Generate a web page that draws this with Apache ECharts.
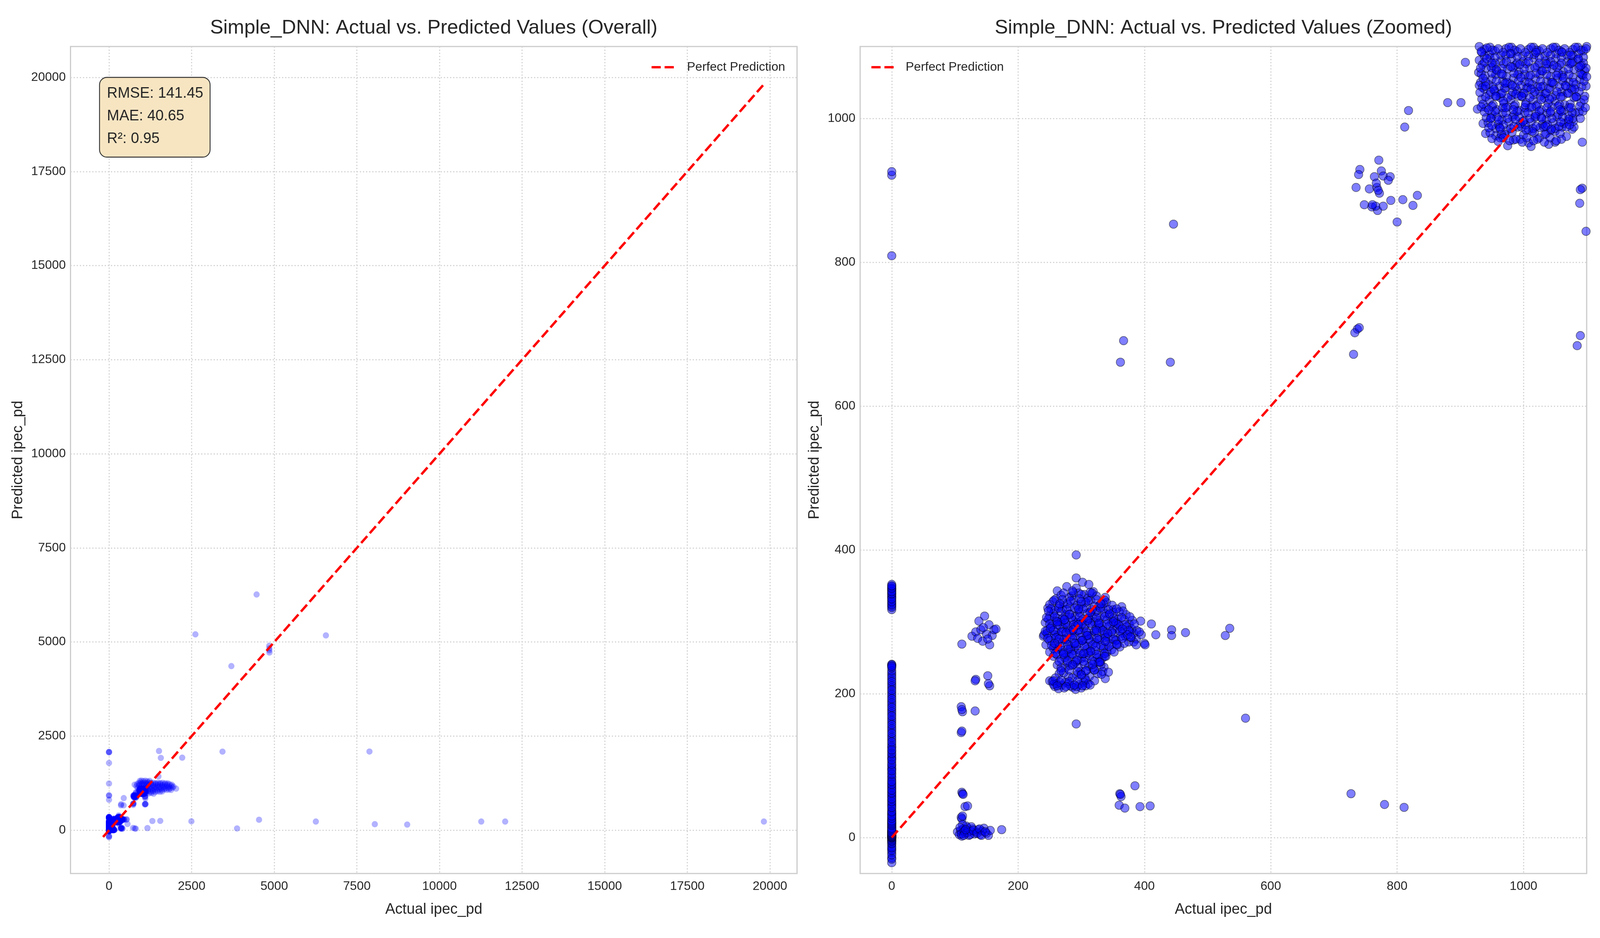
<!DOCTYPE html>
<html>
<head>
<meta charset="utf-8">
<title>Simple_DNN: Actual vs. Predicted Values</title>
<script src="https://cdn.jsdelivr.net/npm/echarts@6.0.0/dist/echarts.min.js"></script>
<style>
  html, body { margin: 0; padding: 0; background: #ffffff; overflow: hidden; }
  #chart { width: 100vw; height: 100vh; }
</style>
</head>
<body>
<div id="chart"></div>
<script>
// predicted values for rows whose actual ipec_pd is 0
const zeroPreds = [-185, -168, -152, -35, -28, -21, -16, -12, -9, -6, -4, -2, 0, 1, 2, 3, 4, 5, 6, 7, 8, 9, 10,
  12, 14, 16, 18, 20, 22, 25, 28, 31, 34, 37, 40, 44, 48, 52, 56, 60, 64, 68, 72, 76, 80, 85, 90, 95, 100,
  105, 110, 115, 120, 125, 130, 136, 142, 148, 154, 160, 166, 172, 178, 184, 190, 196, 202, 208, 214, 220,
  226, 229, 239, 241, 317, 322, 326, 330, 334, 337, 340, 343, 346, 349, 352, 809, 921, 926, 1240, 1787,
  2068, 2076, 2082,
  0, 3, 8, 15, 24, 33, 46, 58, 70, 83, 97, 112, 127, 139, 151, 163, 175, 187, 199, 211, 223, 240, 335, 345,
  -30, -24, -18, -14, -8, -5, -3, -1, 0, 0, 1, 2, 2, 3, 4, 5, 6, 7, 9, 11, 13, 17, 19, 21, 23, 27, 30, 36,
  42, 50, 54, 62, 66, 74, 78, 88, 93, 102, 108, 117, 122, 133, 145, 157, 169, 181, 193, 205, 217, 232, 236,
  238, 320, 324, 328, 332, 339, 342, 347, 350];

// [actual, predicted] pairs, grouped by region of the plot
const bandPts = [[111, 269], [127, 280], [133, 286], [136, 277], [138, 301], [141, 289], [144, 273], [147, 308],
  [150, 283], [154, 296], [155, 268], [159, 281], [162, 289], [165, 290], [152, 276], [145, 292],
  [133, 220], [132, 218], [152, 225], [155, 211], [153, 214],
  [110, 182], [112, 175], [111, 178], [132, 176], [110, 146], [111, 148],
  [111, 63], [112, 61], [113, 60], [116, 43], [120, 44], [110, 28], [111, 26], [112, 30],
  [104, 8], [107, 4], [109, 10], [111, 2], [113, 12], [116, 6], [119, 14], [122, 3], [125, 9], [128, 12],
  [131, 5], [134, 8], [137, 11], [140, 4], [143, 9], [146, 13], [150, 6], [153, 3], [156, 10], [174, 11],
  [118, 16], [126, 15], [112, 18], [108, 14],
  [110, 5], [115, 9], [120, 7], [124, 4], [129, 10], [135, 6], [139, 12], [142, 3], [148, 8], [114, 3], [117, 11]];

const midPts = [[262, 343], [277, 349], [292, 347], [305, 338], [319, 342], [285, 336],
  [255, 328], [260, 332], [272, 326], [288, 330], [300, 325], [315, 330], [328, 322], [340, 327],
  [247, 319], [258, 316], [270, 318], [282, 321], [295, 316], [308, 320], [322, 314], [335, 318], [350, 317], [364, 321],
  [250, 308], [262, 305], [275, 310], [290, 307], [303, 304], [316, 310], [330, 306], [344, 309], [358, 304], [371, 310],
  [243, 299], [255, 296], [268, 300], [280, 294], [293, 299], [306, 295], [320, 300], [334, 294], [348, 298], [362, 293], [376, 297],
  [246, 288], [259, 286], [271, 291], [284, 285], [297, 289], [310, 284], [323, 290], [337, 286], [350, 289], [365, 284], [380, 290],
  [240, 280], [252, 277], [264, 282], [277, 276], [290, 280], [303, 275], [316, 281], [329, 276], [342, 279], [355, 275], [370, 280], [387, 276],
  [244, 268], [257, 266], [270, 271], [283, 265], [296, 270], [309, 266], [322, 271], [335, 265], [348, 269], [361, 265], [375, 272], [400, 270],
  [250, 258], [263, 262], [276, 256], [289, 260], [302, 255], [315, 259], [328, 254], [341, 258],
  [256, 252], [268, 248], [281, 252], [294, 246], [307, 250], [320, 245], [333, 249],
  [262, 240], [275, 236], [278, 244], [288, 241], [299, 231], [312, 238], [320, 233], [327, 244], [336, 237],
  [265, 228], [280, 224], [293, 226], [306, 222], [338, 221],
  [250, 218], [254, 217], [258, 210], [269, 212], [275, 216], [280, 214], [286, 209], [291, 206], [297, 213],
  [304, 216], [311, 214], [264, 207], [300, 208],
  [292, 393], [292, 361], [302, 355], [312, 352], [383, 284], [394, 301], [411, 297], [418, 282], [443, 289],
  [443, 281], [465, 285], [528, 281], [535, 291], [401, 268], [292, 158], [560, 166], [241, 282]];

// further overlapping layers of the dense middle cluster
const midCorePts = [[268, 337], [281, 334], [296, 340], [310, 333], [324, 336], [338, 334],
  [250, 324], [265, 322], [278, 325], [293, 323], [307, 327], [321, 322], [335, 325], [349, 323], [360, 314],
  [256, 312], [268, 314], [282, 311], [297, 313], [310, 312], [324, 315], [337, 312], [351, 313], [366, 315],
  [248, 304], [261, 301], [274, 303], [287, 302], [300, 301], [313, 304], [327, 302], [341, 303], [354, 301], [368, 303], [381, 302],
  [252, 293], [265, 295], [278, 292], [291, 294], [304, 291], [317, 295], [330, 292], [344, 294], [357, 291], [372, 293], [388, 288],
  [246, 284], [258, 282], [271, 286], [285, 282], [298, 285], [311, 281], [324, 285], [337, 282], [350, 284], [363, 280], [377, 286], [395, 282],
  [250, 274], [263, 272], [276, 275], [289, 271], [302, 274], [315, 272], [328, 275], [341, 272], [355, 274], [368, 270], [383, 272],
  [256, 263], [269, 260], [283, 263], [296, 261], [309, 262], [322, 260], [335, 263], [348, 261],
  [262, 254], [274, 250], [287, 255], [300, 249], [313, 253], [326, 250], [339, 252],
  [268, 236], [282, 239], [295, 237], [305, 241], [318, 236], [331, 240],
  [259, 222], [272, 229], [286, 222], [300, 227], [313, 224], [326, 228],
  [261, 214], [273, 208], [283, 211], [293, 210], [307, 211], [256, 213], [266, 216]];

const midDeepPts = [[272, 340], [287, 341], [300, 338], [314, 341],
  [257, 330], [270, 331], [283, 329], [297, 332], [311, 329], [324, 331], [337, 330],
  [252, 318], [264, 319], [277, 317], [290, 319], [303, 318], [317, 317], [330, 319], [343, 317], [356, 318],
  [245, 306], [258, 307], [271, 305], [284, 306], [297, 307], [311, 305], [324, 306], [337, 307], [351, 305], [364, 306], [377, 307],
  [250, 297], [262, 296], [275, 298], [288, 296], [301, 297], [314, 298], [328, 296], [341, 297], [355, 298], [369, 296], [384, 297],
  [243, 287], [256, 288], [269, 286], [282, 287], [295, 288], [308, 286], [321, 287], [334, 288], [348, 286], [361, 287], [375, 288], [392, 286],
  [247, 277], [260, 278], [273, 276], [286, 277], [299, 278], [312, 276], [325, 277], [338, 278], [351, 276], [365, 277], [379, 278],
  [253, 267], [266, 266], [279, 268], [292, 267], [305, 266], [318, 268], [331, 267], [344, 266], [357, 268],
  [259, 256], [272, 257], [285, 255], [298, 256], [311, 257], [324, 255], [337, 256],
  [265, 245], [278, 246], [291, 244], [304, 245], [317, 246], [330, 244],
  [268, 232], [281, 233], [294, 231], [308, 232], [321, 233], [334, 231],
  [256, 218], [268, 219], [281, 217], [294, 218], [307, 219],
  [262, 211], [276, 210], [289, 212], [302, 211]];

const midLoosePts = [[266, 325], [281, 310], [295, 296], [309, 281], [323, 266], [337, 252], [251, 291], [265, 276],
  [279, 262], [293, 247], [307, 232], [321, 218], [286, 343], [300, 328], [314, 313], [328, 298], [342, 284],
  [356, 269], [273, 303], [287, 289], [301, 274], [315, 259], [329, 244], [343, 230], [258, 270], [272, 255],
  [286, 240], [300, 226], [314, 212], [317, 340], [331, 325], [345, 311], [359, 296], [373, 282], [387, 268],
  [248, 315], [262, 300], [276, 285], [290, 270], [304, 256], [318, 241], [332, 227], [351, 300], [365, 290],
  [378, 279], [296, 318], [310, 302], [324, 288], [338, 273], [352, 258]];

const lowRightPts = [[361, 61], [363, 57], [362, 60], [360, 45], [369, 41], [385, 72], [393, 43], [409, 44],
  [727, 61], [780, 46], [811, 42]];

const upperPts = [[446, 853], [367, 691], [362, 661], [441, 661],
  [737, 707], [733, 702], [740, 709], [731, 672],
  [771, 942], [741, 929], [739, 922], [735, 904], [756, 902], [764, 919], [775, 927], [778, 920], [789, 919],
  [786, 914], [768, 904], [772, 896], [748, 880], [760, 877], [769, 872], [778, 878], [790, 886], [809, 887],
  [825, 879], [832, 893], [800, 856], [766, 878], [761, 880], [767, 910], [770, 900],
  [812, 988], [818, 1011], [880, 1022], [901, 1022], [908, 1078],
  [1093, 903], [1090, 901], [1089, 882], [1099, 843], [1085, 684], [1090, 698], [1103, 699], [1104, 690]];

const highPts = [[938, 1096], [955, 1094], [972, 1097], [990, 1093], [1008, 1096], [1025, 1094], [1043, 1097], [1060, 1093], [1078, 1096], [1095, 1094],
  [930, 1081], [947, 1084], [964, 1080], [981, 1083], [999, 1079], [1016, 1084], [1034, 1080], [1051, 1083], [1069, 1079], [1086, 1082],
  [929, 1064], [941, 1070], [958, 1066], [975, 1069], [993, 1065], [1010, 1070], [1028, 1066], [1045, 1069], [1063, 1065], [1080, 1068], [1097, 1066],
  [932, 1050], [950, 1055], [967, 1052], [984, 1056], [1002, 1051], [1019, 1055], [1037, 1052], [1054, 1056], [1072, 1051], [1089, 1054],
  [938, 1041], [955, 1038], [972, 1042], [990, 1039], [1007, 1043], [1025, 1038], [1042, 1041], [1060, 1037], [1077, 1040], [1084, 1030],
  [934, 1027], [946, 1025], [963, 1029], [980, 1026], [998, 1030], [1015, 1025], [1033, 1028], [1050, 1024], [1065, 1019],
  [927, 1013], [941, 1015], [958, 1012], [975, 1016], [993, 1011], [1010, 1015], [1028, 1012], [1045, 1016], [1063, 1011], [1082, 1008],
  [936, 993], [949, 1001], [966, 998], [983, 1002], [1001, 997], [1018, 1001], [1036, 998], [1053, 1002], [1071, 996], [1088, 1009],
  [940, 979], [956, 986], [973, 983], [991, 988], [1008, 984], [1026, 987], [1043, 983], [1061, 988], [1077, 985], [1080, 988],
  [956, 976], [963, 973], [984, 970], [995, 971], [1008, 966], [1025, 973], [1036, 979], [1050, 967], [1050, 982], [1068, 975],
  [975, 962], [1012, 961], [1040, 964], [1093, 967], [970, 978],
  [946, 1089], [964, 1088], [981, 1090], [999, 1087], [1017, 1089], [1034, 1087], [1052, 1090], [1069, 1088], [1087, 1090],
  [939, 1059], [956, 1061], [973, 1058], [991, 1061], [1008, 1058], [1026, 1061], [1043, 1058], [1061, 1060], [1078, 1057], [1094, 1060],
  [946, 1033], [964, 1034], [981, 1032], [999, 1035], [1016, 1033], [1034, 1034], [1051, 1032], [1069, 1035],
  [950, 1006], [967, 1007], [985, 1005], [1002, 1008], [1020, 1006], [1037, 1007], [1055, 1005], [1072, 1003]];

// further overlapping layers of the dense cluster near (1000, 1000)
const highCorePts = [[930, 1100], [947, 1099], [964, 1101], [981, 1099], [999, 1101], [1016, 1099], [1034, 1101], [1051, 1099], [1069, 1101], [1086, 1099], [1100, 1100],
  [935, 1075], [952, 1073], [969, 1076], [987, 1074], [1004, 1076], [1022, 1073], [1039, 1076], [1057, 1074], [1074, 1076], [1092, 1074],
  [930, 1046], [945, 1047], [962, 1045], [979, 1048], [996, 1046], [1014, 1047], [1031, 1045], [1048, 1048], [1066, 1046], [1083, 1047], [1099, 1045],
  [936, 1020], [952, 1019], [969, 1021], [987, 1019], [1004, 1022], [1022, 1019], [1039, 1021], [1057, 1019], [1074, 1020], [1091, 1022],
  [944, 994], [960, 992], [977, 995], [995, 993], [1012, 995], [1030, 992], [1047, 994], [1064, 993], [1079, 996],
  [947, 980], [965, 978], [982, 981], [1000, 977], [1017, 980], [1034, 978], [1058, 979],
  [938, 1087], [955, 1085], [972, 1088], [990, 1086], [1008, 1087], [1025, 1085], [1043, 1088], [1060, 1085], [1078, 1087], [1095, 1085]];

const highDeepPts = [[934, 1092], [951, 1095], [968, 1092], [986, 1095], [1003, 1092], [1021, 1095], [1038, 1092], [1056, 1095], [1073, 1092], [1091, 1095],
  [938, 1078], [955, 1077], [973, 1079], [990, 1077], [1008, 1079], [1025, 1077], [1043, 1079], [1060, 1077], [1078, 1079], [1095, 1077],
  [933, 1062], [950, 1063], [967, 1061], [985, 1063], [1002, 1061], [1020, 1063], [1037, 1061], [1055, 1063], [1072, 1061], [1090, 1063],
  [935, 1043], [952, 1044], [970, 1042], [987, 1044], [1005, 1042], [1022, 1044], [1040, 1042], [1057, 1044], [1075, 1042], [1092, 1044],
  [940, 1030], [957, 1031], [975, 1029], [992, 1031], [1010, 1029], [1027, 1031], [1045, 1029], [1062, 1031], [1080, 1029], [1097, 1031],
  [933, 1016], [950, 1017], [967, 1015], [985, 1017], [1002, 1015], [1020, 1017], [1037, 1015], [1055, 1017], [1072, 1015], [1089, 1017],
  [941, 1001], [958, 1002], [975, 1000], [993, 1002], [1010, 1000], [1028, 1002], [1045, 1000], [1062, 1002], [1078, 1000],
  [945, 987], [962, 988], [980, 986], [997, 988], [1015, 986], [1032, 988], [1050, 986], [1068, 988],
  [950, 972], [968, 973], [988, 971], [1005, 973], [1022, 971], [1042, 973], [1060, 971],
  [942, 1098], [960, 1097], [977, 1099], [995, 1097], [1012, 1099], [1030, 1097], [1047, 1099], [1065, 1097], [1082, 1099], [1099, 1097],
  [932, 1070], [949, 1071], [966, 1069], [983, 1071], [1001, 1069], [1018, 1071], [1036, 1069], [1053, 1071], [1071, 1069], [1088, 1071],
  [940, 1051], [957, 1052], [974, 1050], [992, 1052], [1009, 1050], [1027, 1052], [1044, 1050], [1062, 1052], [1079, 1050], [1096, 1052],
  [931, 1036], [948, 1037], [966, 1035], [983, 1037], [1001, 1035], [1018, 1037], [1036, 1035], [1053, 1037], [1071, 1035], [1088, 1037],
  [938, 1009], [955, 1010], [972, 1008], [990, 1010], [1007, 1008], [1025, 1010], [1042, 1008], [1060, 1010], [1077, 1008], [1094, 1010],
  [950, 990], [968, 991], [985, 989], [1003, 991], [1020, 989], [1038, 991], [1056, 989], [1073, 991],
  [960, 968], [978, 969], [998, 967], [1016, 969], [1033, 967], [1052, 969]];

const highLoosePts = [[942, 1083], [957, 1068], [971, 1049], [988, 1034], [1003, 1019], [1019, 1003], [1035, 989],
  [1048, 1074], [1063, 1057], [1081, 1041], [1096, 1026], [936, 1056], [953, 1040], [968, 1024], [984, 1012],
  [999, 996], [1014, 982], [1030, 1066], [1046, 1050], [1059, 1030], [1075, 1015], [1090, 1000], [945, 1012],
  [961, 998], [979, 1090], [994, 1075], [1011, 1060], [1027, 1044], [1041, 1027], [1058, 1012], [1072, 999],
  [1087, 1083], [1099, 1070], [933, 1093], [950, 1077], [965, 1062], [982, 1046], [997, 1031], [1013, 1016],
  [1029, 1000], [1044, 985], [1061, 1092], [1076, 1077], [1092, 1061], [940, 1045], [956, 1031], [972, 1015],
  [987, 999], [1004, 984], [1020, 1092], [1036, 1076], [1052, 1060], [1067, 1045], [1083, 1030], [1098, 1015],
  [948, 1000], [963, 986], [980, 1072], [996, 1057], [1012, 1041], [1028, 1026], [1043, 1010], [1059, 995],
  [1075, 1088], [1090, 1073], [1100, 1058]];

// rows that only show up in the overall view
const overflowPts = [[930, 1310], [980, 1320], [1040, 1305], [1100, 1315], [1160, 1300], [1230, 1310],
  [900, 1255], [960, 1270], [1020, 1250], [1080, 1265], [1140, 1255], [1200, 1268], [1270, 1258], [1340, 1262],
  [1410, 1250], [1480, 1260], [1550, 1255], [1620, 1258], [1700, 1250], [1780, 1245],
  [775, 1210], [850, 1225], [920, 1215], [990, 1230], [1060, 1210], [1130, 1225], [1200, 1215], [1270, 1228],
  [1340, 1212], [1410, 1224], [1480, 1214], [1550, 1226], [1620, 1210], [1690, 1222], [1760, 1212], [1830, 1220], [1900, 1210],
  [830, 1170], [905, 1180], [975, 1165], [1045, 1178], [1115, 1160], [1185, 1175], [1255, 1165], [1325, 1180],
  [1395, 1162], [1465, 1176], [1535, 1166], [1605, 1178], [1675, 1160], [1745, 1174], [1815, 1164], [1885, 1176], [1950, 1160],
  [870, 1120], [940, 1130], [1010, 1115], [1080, 1128], [1150, 1118], [1220, 1130], [1290, 1115], [1360, 1128],
  [1430, 1118], [1500, 1130], [1570, 1120], [1640, 1128], [1710, 1115], [1780, 1125], [1850, 1118], [1920, 1130], [2030, 1105],
  [1110, 1080], [1180, 1075], [1250, 1085], [1320, 1072], [1390, 1082], [1460, 1070], [1530, 1080], [1600, 1075],
  [1670, 1085], [1740, 1072], [1810, 1080], [1880, 1070],
  [1120, 1030], [1190, 1040], [1260, 1025], [1330, 1035], [1400, 1020], [1470, 1032], [1540, 1022], [1610, 1030],
  [1130, 985], [1200, 975], [1280, 990], [1350, 970],
  [1495, 1430], [1513, 2105], [1568, 1922], [2215, 1928], [3434, 2088], [7881, 2090], [3702, 4360], [2614, 5204],
  [6563, 5175], [4466, 6263], [4851, 4780], [4851, 4830], [4855, 4720], [4848, 4900],
  [1163, 57], [1312, 245], [1550, 248], [2493, 237], [3874, 47], [4540, 278], [6259, 230], [8043, 160],
  [9023, 150], [11264, 230], [11988, 230], [19817, 230]];

const overallTicks = [0, 2500, 5000, 7500, 10000, 12500, 15000, 17500, 20000];
const zoomTicks = [0, 200, 400, 600, 800, 1000];
const overallLine = [[-180, -180], [19820, 19820]];
const zoomLine = [[0, 0], [1000, 1000]];
const metricNames = ['RMSE', 'MAE', 'R²'];
const metricValues = ['141.45', '40.65', '0.95'];

const points = zeroPreds.map(p => [0, p])
  .concat(bandPts, midPts, midCorePts, midDeepPts, midLoosePts, lowRightPts, upperPts,
    highPts, highCorePts, highDeepPts, highLoosePts, overflowPts);

// layout is worked out on a 5400 x 2400 canvas, then stretched to the real window
const SX = (window.innerWidth || 5400) / 5400;
const SY = (window.innerHeight || 2400) / 2400;
const px = v => v * SX;   // horizontal distances and font sizes
const py = v => v * SY;   // vertical distances
const FONT = '"Liberation Sans", Arial, sans-serif';
const INK = '#262626';

function makeAxis(gridIndex, min, max, ticks, name, gap, labelMargin) {
  return {
    type: 'value',
    gridIndex: gridIndex,
    min: min,
    max: max,
    name: name,
    nameLocation: 'middle',
    nameGap: gap,
    nameTextStyle: { fontFamily: FONT, fontSize: px(50), color: INK },
    axisLine: { show: false },
    axisTick: { show: false, customValues: ticks },
    axisLabel: {
      customValues: ticks,
      fontFamily: FONT, fontSize: px(42), color: INK, margin: labelMargin,
      formatter: v => String(v)
    },
    splitLine: { show: true, lineStyle: { color: '#d3d3d3', width: px(4), type: [px(4), px(6.5)] } }
  };
}

function titleOf(text, centerX) {
  return {
    text: text, left: px(centerX), top: py(72) - px(33.5), textAlign: 'center', padding: 0,
    textStyle: { fontFamily: FONT, fontSize: px(67), fontWeight: 'normal', color: INK, lineHeight: px(67) }
  };
}

function legendAt(pos, textGap) {
  return Object.assign({
    data: [{ name: 'Perfect Prediction', icon: 'path://M0,0H31V8H0Z M44,0H75V8H44Z' }],
    top: py(172) - px(21), padding: 0,
    itemWidth: px(75), itemHeight: px(8),
    itemStyle: { color: '#ff0000', borderWidth: 0 },
    textStyle: { fontFamily: FONT, fontSize: px(42), color: INK, padding: [0, 0, 0, px(textGap)] }
  }, pos);
}

const lineStyle = { color: '#ff0000', width: px(8), type: [px(31), px(13)] };

var myChart = echarts.init(document.getElementById('chart'));

var option = {
  backgroundColor: '#ffffff',
  animation: false,
  title: [
    titleOf('Simple_DNN: Actual vs. Predicted Values (Overall)', 1464),
    titleOf('Simple_DNN: Actual vs. Predicted Values (Zoomed)', 4129),
    {
      text: metricNames.map((n, i) => n + ': ' + metricValues[i]).join('\n'),
      left: px(335), top: py(198),
      padding: [py(13), px(23), py(17), px(26)],
      backgroundColor: '#f7e5c2',
      borderColor: '#333333',
      borderWidth: px(3),
      borderRadius: px(25),
      textStyle: { fontFamily: FONT, fontSize: px(50), fontWeight: 'normal', color: INK, lineHeight: py(58) }
    }
  ],
  legend: [
    legendAt({ right: px(2750) }, 38),
    legendAt({ left: px(2941) }, 34)
  ],
  grid: [
    { left: px(238), top: py(119), width: px(2452), height: py(2116), show: true, borderColor: '#cccccc', borderWidth: px(4) },
    { left: px(2903), top: py(119), width: px(2452), height: py(2116), show: true, borderColor: '#cccccc', borderWidth: px(4) }
  ],
  xAxis: [
    makeAxis(0, -1165, 20820, overallTicks, 'Actual ipec_pd', py(93) - px(25), py(17)),
    makeAxis(1, -50, 1100, zoomTicks, 'Actual ipec_pd', py(93) - px(25), py(17))
  ],
  yAxis: [
    makeAxis(0, -1150, 20820, overallTicks, 'Predicted ipec_pd', px(151), px(16)),
    makeAxis(1, -50, 1100, zoomTicks, 'Predicted ipec_pd', px(128), px(16))
  ],
  series: [
    {
      type: 'scatter', xAxisIndex: 0, yAxisIndex: 0, data: points,
      symbolSize: px(21), itemStyle: { color: '#0000ff', opacity: 0.3 }
    },
    {
      type: 'line', name: 'Perfect Prediction', xAxisIndex: 0, yAxisIndex: 0,
      data: overallLine, symbol: 'none', itemStyle: { color: '#ff0000' }, lineStyle: lineStyle
    },
    {
      type: 'scatter', xAxisIndex: 1, yAxisIndex: 1, data: points,
      symbolSize: px(28.5), itemStyle: { color: '#0000ff', opacity: 0.5, borderColor: '#000000', borderWidth: px(2) }
    },
    {
      type: 'line', name: 'Perfect Prediction', xAxisIndex: 1, yAxisIndex: 1,
      data: zoomLine, symbol: 'none', itemStyle: { color: '#ff0000' }, lineStyle: lineStyle
    }
  ]
};

myChart.setOption(option);
window.addEventListener('resize', function () {
  myChart.resize();
});
</script>
</body>
</html>
